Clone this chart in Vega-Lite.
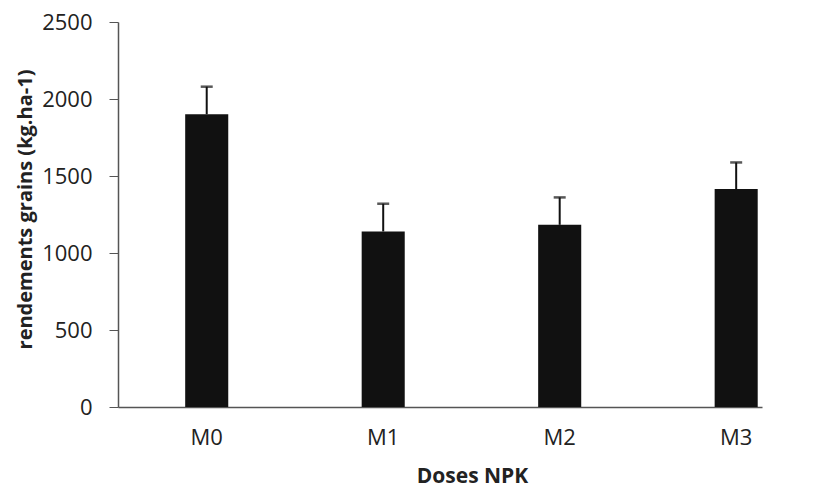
{
  "$schema": "https://vega.github.io/schema/vega-lite/v6.json",
  "autosize": "none",
  "width": 644,
  "height": 385,
  "padding": {"left": 118, "top": 22, "right": 58, "bottom": 82},
  "background": "white",
  "config": {
    "view": {"stroke": null},
    "font": "Open Sans",
    "axis": {"grid": false, "domainColor": "#555555", "tickColor": "#555555", "labelColor": "#222222", "titleColor": "#222222", "labelFont": "Open Sans", "titleFont": "Open Sans"}
  },
  "data": {
    "values": [
      {"dose": "M0", "rendement": 1901, "haut": 2080},
      {"dose": "M1", "rendement": 1140, "haut": 1320},
      {"dose": "M2", "rendement": 1183, "haut": 1361},
      {"dose": "M3", "rendement": 1415, "haut": 1588}
    ]
  },
  "encoding": {
    "x": {
      "field": "dose",
      "type": "nominal",
      "sort": null,
      "scale": {"paddingInner": 0.756, "paddingOuter": 0.2025, "align": 0.94},
      "axis": {
        "title": "Doses NPK",
        "labelAngle": 0,
        "labelFontSize": 22,
        "labelPadding": 20,
        "ticks": false,
        "domainWidth": 1.5,
        "titleFontSize": 21,
        "titleFontWeight": "bold",
        "titleX": 354,
        "titleY": 58,
        "titleBaseline": "top",
        "titleAnchor": null,
        "titleAlign": "center"
      }
    }
  },
  "layer": [
    {
      "mark": {"type": "bar", "color": "#111111"},
      "encoding": {
        "y": {
          "field": "rendement",
          "type": "quantitative",
          "scale": {"domain": [0, 2500], "nice": false},
          "axis": {
            "title": "rendements grains (kg.ha-1)",
            "values": [0, 500, 1000, 1500, 2000, 2500],
            "format": "d",
            "labelFontSize": 22,
            "tickSize": 9,
            "labelPadding": 17,
            "domainWidth": 1.5,
            "titleFontSize": 20,
            "titleFontWeight": "bold",
            "titleX": -93,
            "titleY": 187,
            "titleAngle": -90,
            "titleBaseline": "middle",
            "titleAlign": "center",
            "titleAnchor": null
          }
        }
      }
    },
    {
      "mark": {"type": "rule", "color": "#111111", "strokeWidth": 2},
      "encoding": {
        "y": {"field": "rendement", "type": "quantitative"},
        "y2": {"field": "haut"}
      }
    },
    {
      "mark": {"type": "tick", "color": "#111111", "thickness": 2.5, "size": 12},
      "encoding": {
        "y": {"field": "haut", "type": "quantitative"}
      }
    }
  ]
}
